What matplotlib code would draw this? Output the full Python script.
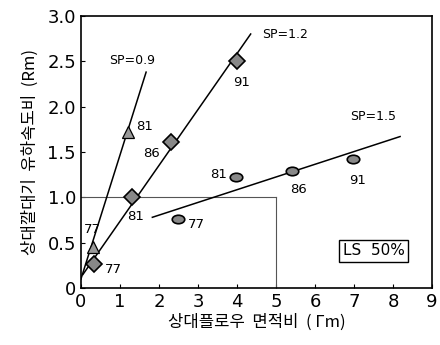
import numpy as np
import matplotlib
matplotlib.use("Agg")
import matplotlib.pyplot as plt
from matplotlib.path import Path

plt.rcParams['font.family'] = ['Noto Sans CJK KR', 'DejaVu Sans']

# SP=0.9 (triangles)
sp09_x = [0.3, 1.2]
sp09_y = [0.45, 1.72]
sp09_lbl = ['77', '81']
sp09_line_x = [0.0, 1.67]
sp09_line_y = [0.1, 2.38]

# SP=1.2 (diamonds)
sp12_x = [0.33, 1.3, 2.3, 4.0]
sp12_y = [0.27, 1.0, 1.61, 2.5]
sp12_lbl = ['77', '81', '86', '91']
sp12_line_x = [0.05, 4.35]
sp12_line_y = [0.15, 2.8]

# SP=1.5 (ellipses)
sp15_x = [2.5, 3.98, 5.4, 6.98]
sp15_y = [0.76, 1.22, 1.29, 1.42]
sp15_lbl = ['77', '81', '86', '91']
sp15_line_x = [1.83, 8.18]
sp15_line_y = [0.78, 1.67]

# label offsets (points)
off09 = [(-6, 13), (6, 4)]
off12 = [(8, -4), (-3, -14), (-20, -8), (-3, -15)]
off15 = [(7, -4), (-19, 2), (-1, -13), (-3, -15)]

circ = Path.unit_circle()
ellipse = Path(circ.vertices * np.array([1.0, 0.68]), circ.codes)

num = ['DejaVu Sans']

fig = plt.figure(figsize=(4.4, 3.45), dpi=100)
ax = fig.add_axes([0.184, 0.165, 0.798, 0.789])

# reference guide lines
ax.plot([0, 5], [1.0, 1.0], color='#555555', lw=0.8)
ax.plot([5, 5], [0, 1.0], color='#555555', lw=0.8)

ax.plot(sp09_line_x, sp09_line_y, color='black', lw=1.1)
ax.plot(sp12_line_x, sp12_line_y, color='black', lw=1.1)
ax.plot(sp15_line_x, sp15_line_y, color='black', lw=1.1)

ax.plot(sp09_x, sp09_y, ls='none', marker='^', ms=9, mfc='#999999', mec='black', mew=0.9)
ax.plot(sp12_x, sp12_y, ls='none', marker='D', ms=8, mfc='#888888', mec='black', mew=1.2)
ax.plot(sp15_x, sp15_y, ls='none', marker=ellipse, ms=9, mfc='#888888', mec='black', mew=1.2)

for xs, ys, lbls, offs in [(sp09_x, sp09_y, sp09_lbl, off09),
                           (sp12_x, sp12_y, sp12_lbl, off12),
                           (sp15_x, sp15_y, sp15_lbl, off15)]:
    for x, y, t, o in zip(xs, ys, lbls, offs):
        ax.annotate(t, (x, y), xytext=o, textcoords='offset points',
                    fontsize=9.5, va='center', ha='left', family=num)

ax.text(0.73, 2.51, 'SP=0.9', fontsize=9, va='center', family=num)
ax.text(4.65, 2.8, 'SP=1.2', fontsize=9, va='center', family=num)
ax.text(6.9, 1.89, 'SP=1.5', fontsize=9, va='center', family=num)

ax.text(7.5, 0.41, 'LS  50%', fontsize=11, ha='center', va='center', family=num,
        bbox=dict(boxstyle='square,pad=0.25', fc='white', ec='black', lw=1.0))

ax.set_xlim(0, 9)
ax.set_ylim(0, 3.0)
ax.set_xticks(range(10))
ax.set_yticks([0, 0.5, 1.0, 1.5, 2.0, 2.5, 3.0])
ax.set_yticklabels(['0', '0.5', '1.0', '1.5', '2.0', '2.5', '3.0'])
ax.tick_params(direction='in', length=3, labelsize=13)
for lab in ax.get_xticklabels() + ax.get_yticklabels():
    lab.set_family(num)
for s in ax.spines.values():
    s.set_linewidth(1.2)

ax.set_xlabel('상대플로우  면적비  ( Γm)', fontsize=12, labelpad=2)
ax.set_ylabel('상대깔대기  유하속도비  (Rm)', fontsize=12, labelpad=6)

fig.savefig('out.png', dpi=100)
